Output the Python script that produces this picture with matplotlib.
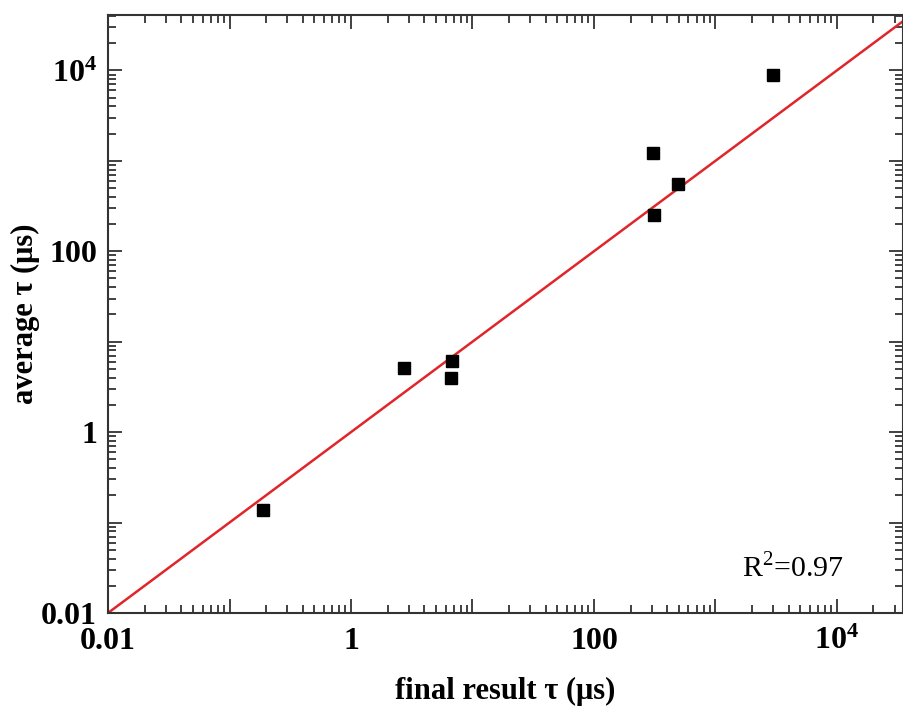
import numpy as np
import matplotlib.pyplot as plt
from matplotlib.ticker import LogLocator, FuncFormatter, NullFormatter

plt.rcParams['font.family'] = ['Liberation Serif', 'DejaVu Serif']
plt.rcParams['mathtext.fontset'] = 'custom'
plt.rcParams['mathtext.rm'] = 'Liberation Serif'
plt.rcParams['mathtext.bf'] = 'Liberation Serif:bold'

# values
final_tau = [0.187, 2.74, 6.84, 6.7, 307, 494, 313, 2960]
average_tau = [0.139, 5.14, 6.15, 3.98, 1228, 555, 251, 8800]
fit_x = [0.01, 3.5e4]
fit_y = [0.01, 3.5e4]
r2_text = "R$^2$=0.97"

tick_names = {-2: "0.01", 0: "1", 2: "100", 4: r"$\mathbf{10^4}$"}

fig = plt.figure(figsize=(9.04, 7.07), dpi=100)
ax = fig.add_axes([0.1195, 0.133, 0.8794, 0.8458])

ax.plot(fit_x, fit_y, color='#e0262a', lw=1.8, zorder=2)
ax.plot(final_tau, average_tau, 's', color='black', ms=9, zorder=3)

ax.set_xscale('log')
ax.set_yscale('log')
ax.set_xlim(0.01, 3.5e4)
ax.set_ylim(0.01, 4.1e4)

def fmt(v, pos):
    e = int(round(np.log10(v)))
    return tick_names.get(e, "")

for a in (ax.xaxis, ax.yaxis):
    a.set_major_locator(LogLocator(base=10, numticks=20))
    a.set_minor_locator(LogLocator(base=10, subs=np.arange(2, 10), numticks=20))
    a.set_major_formatter(FuncFormatter(fmt))
    a.set_minor_formatter(NullFormatter())

ax.tick_params(which='both', direction='in', top=True, right=True, color='#333333', width=1.3)
ax.tick_params(which='major', length=10, labelsize=23)
ax.tick_params(axis='x', which='major', pad=10)
ax.tick_params(axis='y', which='major', pad=8)
ax.tick_params(which='minor', length=6)
for lab in ax.get_xticklabels() + ax.get_yticklabels():
    lab.set_fontweight('bold')
for s in ax.spines.values():
    s.set_linewidth(1.5)
    s.set_color('#333333')

ax.set_xlabel("final result τ (μs)", fontsize=22, fontweight='bold', labelpad=15)
ax.set_ylabel("average τ (μs)", fontsize=22, fontweight='bold', labelpad=1)

ax.text(0.925, 0.075, r2_text, transform=ax.transAxes, fontsize=21.5, ha='right', va='center')

fig.savefig('out.png', dpi=100)
